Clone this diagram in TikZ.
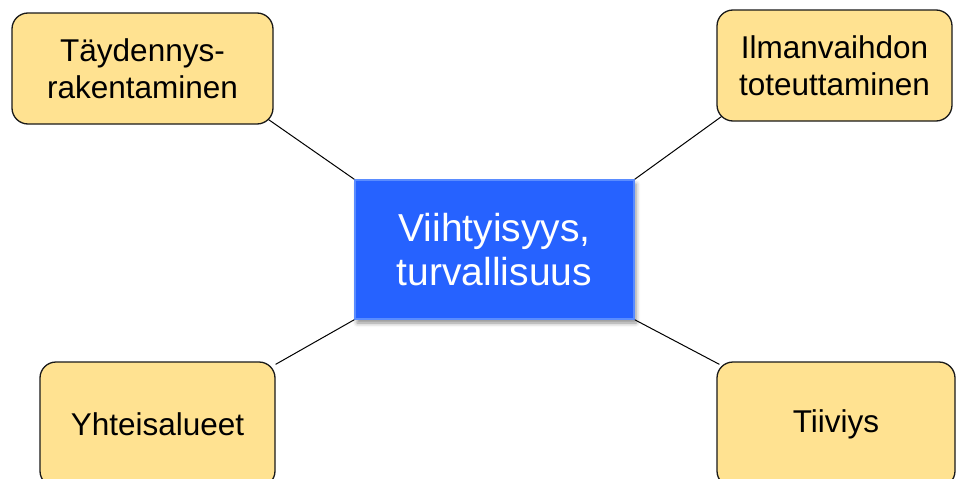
\documentclass[tikz,border=0pt]{standalone}
\usepackage{fontspec}
\setmainfont{Liberation Sans}
\usetikzlibrary{shadows.blur}
\definecolor{boxyellow}{RGB}{255,226,145}
\definecolor{centerblue}{RGB}{38,98,255}
\definecolor{blueedge}{RGB}{90,140,255}
\begin{document}
\begin{tikzpicture}[x=1pt,y=-1pt,
  leaf/.style={draw=black!90, line width=1.3pt, fill=boxyellow, rounded corners=16pt, font=\fontsize{31.5}{37}\selectfont, align=center, inner sep=0pt},
  hub/.style={draw=blueedge, line width=1.5pt, fill=centerblue, font=\fontsize{39}{44}\selectfont, text=white, align=center, inner sep=0pt,
    blur shadow={shadow xshift=2pt, shadow yshift=-4pt, shadow blur radius=4pt, shadow opacity=45}},
  link/.style={draw=black, line width=1pt}]
\useasboundingbox (0,0) rectangle (956,479);
\node[leaf, minimum width=261pt, minimum height=111pt] (tl) at (142.5,68.5) {Täydennys-\\rakentaminen};
\node[leaf, minimum width=235pt, minimum height=111pt] (tr) at (834.5,65.5) {Ilmanvaihdon\\toteuttaminen};
\node[leaf, minimum width=235pt, minimum height=125pt] (bl) at (157.5,424.5) {Yhteisalueet};
\node[leaf, minimum width=238pt, minimum height=125pt] (br) at (836,424.5) {Tiiviys};
\node[hub, minimum width=279pt, minimum height=139pt] (c) at (494.5,249.5) {Viihtyisyys,\\turvallisuus};
\draw[link] (tl.south east) ++(-5,-5) -- (c.north west);
\draw[link] (tr.south west) ++(5,-5) -- (c.north east);
\draw[link] (bl.north east) ++(0,3) -- (c.south west);
\draw[link] (br.north west) ++(3,3) -- (c.south east);
\end{tikzpicture}
\end{document}
